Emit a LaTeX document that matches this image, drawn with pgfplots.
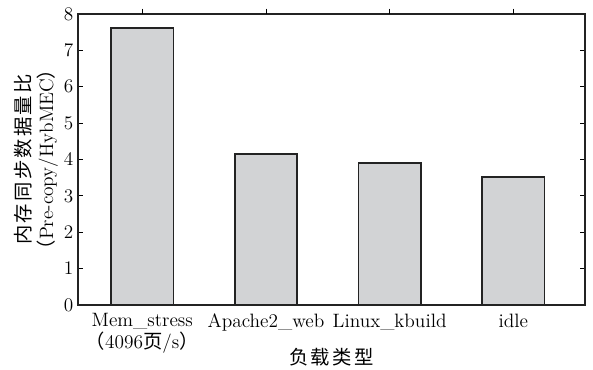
\documentclass[border=0pt]{standalone}
\usepackage{fontspec}
\usepackage{pgfplots}
\pgfplotsset{compat=1.18}
\newfontfamily\cjk{Noto Sans CJK SC}
\newfontfamily\cjkwide[LetterSpace=12]{Noto Sans CJK SC}
\definecolor{barfill}{RGB}{210,211,213}
\definecolor{baredge}{RGB}{35,35,35}
\begin{document}
\begin{tikzpicture}
\begin{axis}[
  at={(0,0)}, anchor=south west,
  scale only axis,
  width=380.25pt, height=218.25pt,
  xmin=-0.52, xmax=3.58,
  ymin=0, ymax=8,
  ytick={0,1,...,8},
  xtick={0,1,2,3},
  xticklabels={{Mem\_stress\\{\cjk （}4096{\cjk 页}/s{\cjk ）}},{Apache2\_web},{Linux\_kbuild},{idle}},
  xticklabel style={align=center, font=\fontsize{14.5}{16}\selectfont, text depth=0pt, yshift=1pt},
  yticklabel style={font=\fontsize{14}{15}\selectfont},
  tick align=inside,
  major tick length=4pt,
  tick style={color=black, line width=0.6pt},
  x tick style={draw=none},
  extra x ticks={0,1,2,3},
  extra x tick labels={},
  extra x tick style={x tick style={draw=black}, tick pos=right},
  axis line style={line width=1.1pt, color=baredge},
  xlabel={\cjkwide 负载类型},
  xlabel style={font=\fontsize{14.5}{16}\selectfont, at={(axis description cs:0.5,0)}, anchor=center, yshift=-39pt},
  ylabel={{\cjkwide 内存同步数据量比}\\{\cjk （}Pre-copy/HybMEC{\cjk ）}},
  ylabel style={align=center, font=\fontsize{14.5}{17}\selectfont, at={(axis description cs:0,0.5)}, anchor=center, yshift=31.5pt},
  ybar, bar width=0.505,
]
\addplot[fill=barfill, draw=baredge, line width=1.2pt] coordinates {
  (0,7.61) (1,4.15) (2,3.91) (3,3.52)
};
\end{axis}
\pgfresetboundingbox
\path (-58.5pt,-48.75pt) rectangle (386.25pt,228.75pt);
\end{tikzpicture}
\end{document}
